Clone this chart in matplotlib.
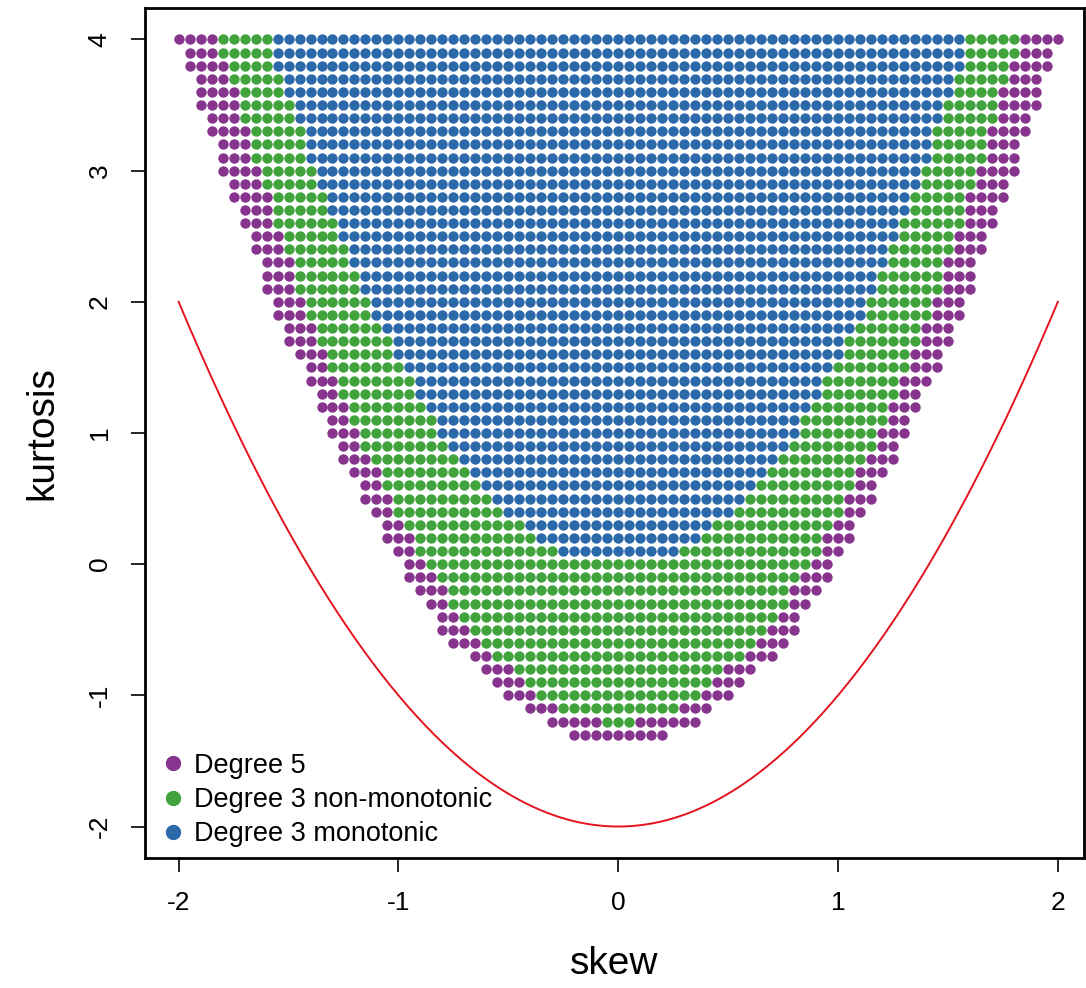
import numpy as np
import matplotlib.pyplot as plt
from matplotlib.lines import Line2D

plt.rcParams['font.family'] = ['Liberation Sans', 'DejaVu Sans']
plt.rcParams['axes.unicode_minus'] = False

# grid step along skew (boundaries below are counted in these steps)
skew_step = 0.05

kurt_levels = [4.0, 3.9, 3.8, 3.7, 3.6, 3.5, 3.4, 3.3, 3.2, 3.1,
               3.0, 2.9, 2.8, 2.7, 2.6, 2.5, 2.4, 2.3, 2.2, 2.1,
               2.0, 1.9, 1.8, 1.7, 1.6, 1.5, 1.4, 1.3, 1.2, 1.1,
               1.0, 0.9, 0.8, 0.7, 0.6, 0.5, 0.4, 0.3, 0.2, 0.1,
               0.0, -0.1, -0.2, -0.3, -0.4, -0.5, -0.6, -0.7, -0.8, -0.9,
               -1.0, -1.1, -1.2, -1.3]

# outermost dot on each side (purple edge)
outer_left = [-40, -39, -39, -38, -38, -38, -37, -37, -36, -36,
              -36, -35, -35, -34, -34, -33, -33, -32, -32, -32,
              -31, -31, -30, -30, -29, -28, -28, -27, -27, -26,
              -26, -25, -25, -24, -23, -23, -22, -21, -21, -20,
              -19, -19, -18, -17, -16, -16, -15, -13, -12, -11,
              -10, -8, -6, -4]
outer_right = [40, 39, 39, 38, 38, 38, 37, 37, 36, 36,
               36, 35, 35, 34, 34, 33, 33, 32, 32, 32,
               31, 31, 30, 30, 29, 29, 28, 27, 27, 26,
               26, 25, 25, 24, 23, 23, 22, 21, 21, 20,
               19, 19, 18, 17, 16, 16, 15, 14, 12, 11,
               10, 8, 7, 4]

# extent of the green region (None = no green)
green_left = [-36, -36, -35, -35, -34, -34, -34, -33, -33, -33,
              -32, -32, -31, -31, -31, -30, -30, -29, -29, -29,
              -28, -28, -27, -27, -26, -26, -25, -25, -24, -24,
              -23, -23, -22, -21, -21, -20, -20, -19, -18, -18,
              -17, -16, -15, -15, -14, -13, -12, -11, -9, -8,
              -7, -5, -1, None]
green_right = [36, 36, 35, 35, 34, 34, 34, 33, 33, 33,
               32, 32, 31, 31, 31, 30, 30, 29, 29, 29,
               28, 28, 27, 27, 26, 26, 25, 25, 24, 24,
               23, 23, 22, 21, 21, 20, 20, 19, 18, 18,
               17, 16, 15, 15, 14, 13, 12, 11, 9, 8,
               7, 5, 1, None]

# extent of the blue region (None = no blue)
blue_half = [31, 31, 31, 30, 30, 29, 29, 28, 28, 28,
             27, 27, 26, 26, 25, 25, 24, 24, 23, 23,
             22, 22, 21, 20, 20, 19, 18, 18, 17, 16,
             16, 15, 14, 13, 12, 11, 10, 8, 7, 5,
             None, None, None, None, None, None, None, None, None, None,
             None, None, None, None]

labels = ['Degree 5', 'Degree 3 non-monotonic', 'Degree 3 monotonic']
colors = ['#87348F', '#40A33B', '#2C69AA']

pts = {0: ([], []), 1: ([], []), 2: ([], [])}
for k, lo, hi, gl, gr, b in zip(kurt_levels, outer_left, outer_right,
                                green_left, green_right, blue_half):
    for i in range(lo, hi + 1):
        if b is not None and -b <= i <= b:
            c = 2
        elif gl is not None and gl <= i <= gr:
            c = 1
        else:
            c = 0
        pts[c][0].append(i * skew_step)
        pts[c][1].append(k)

fig = plt.figure(figsize=(10.86, 9.88), dpi=100)
ax = fig.add_axes([145 / 1086, 130 / 988, (1084 - 145) / 1086, 850 / 988])

for c in [0, 1, 2]:
    ax.scatter(pts[c][0], pts[c][1], s=56, color=colors[c], linewidths=0)

# lower bound of kurtosis given skew
curve_skew = np.linspace(-2, 2, 400)
ax.plot(curve_skew, curve_skew ** 2 - 2, color='#E3141E', lw=1.4)

ax.set_xlim(-2.153, 2.119)
ax.set_ylim(-2.24, 4.24)
ax.set_xticks([-2, -1, 0, 1, 2])
ax.set_yticks([-2, -1, 0, 1, 2, 3, 4])
ax.tick_params(labelsize=19, length=10, width=1.2, pad=14)
for t in ax.get_yticklabels():
    t.set_rotation(90)
    t.set_va('center')
for s in ax.spines.values():
    s.set_linewidth(2)

ax.set_xlabel('skew', fontsize=28, labelpad=22)
ax.set_ylabel('kurtosis', fontsize=28, labelpad=20)

handles = [Line2D([], [], marker='o', ls='', color=c, markersize=10) for c in colors]
ax.legend(handles, labels, loc='upper left', bbox_to_anchor=(-0.008, 0.146),
          frameon=False, fontsize=19.5, handletextpad=0.2, labelspacing=0.3,
          handlelength=1.2, borderaxespad=0.3)

fig.savefig('out.png', dpi=100)
